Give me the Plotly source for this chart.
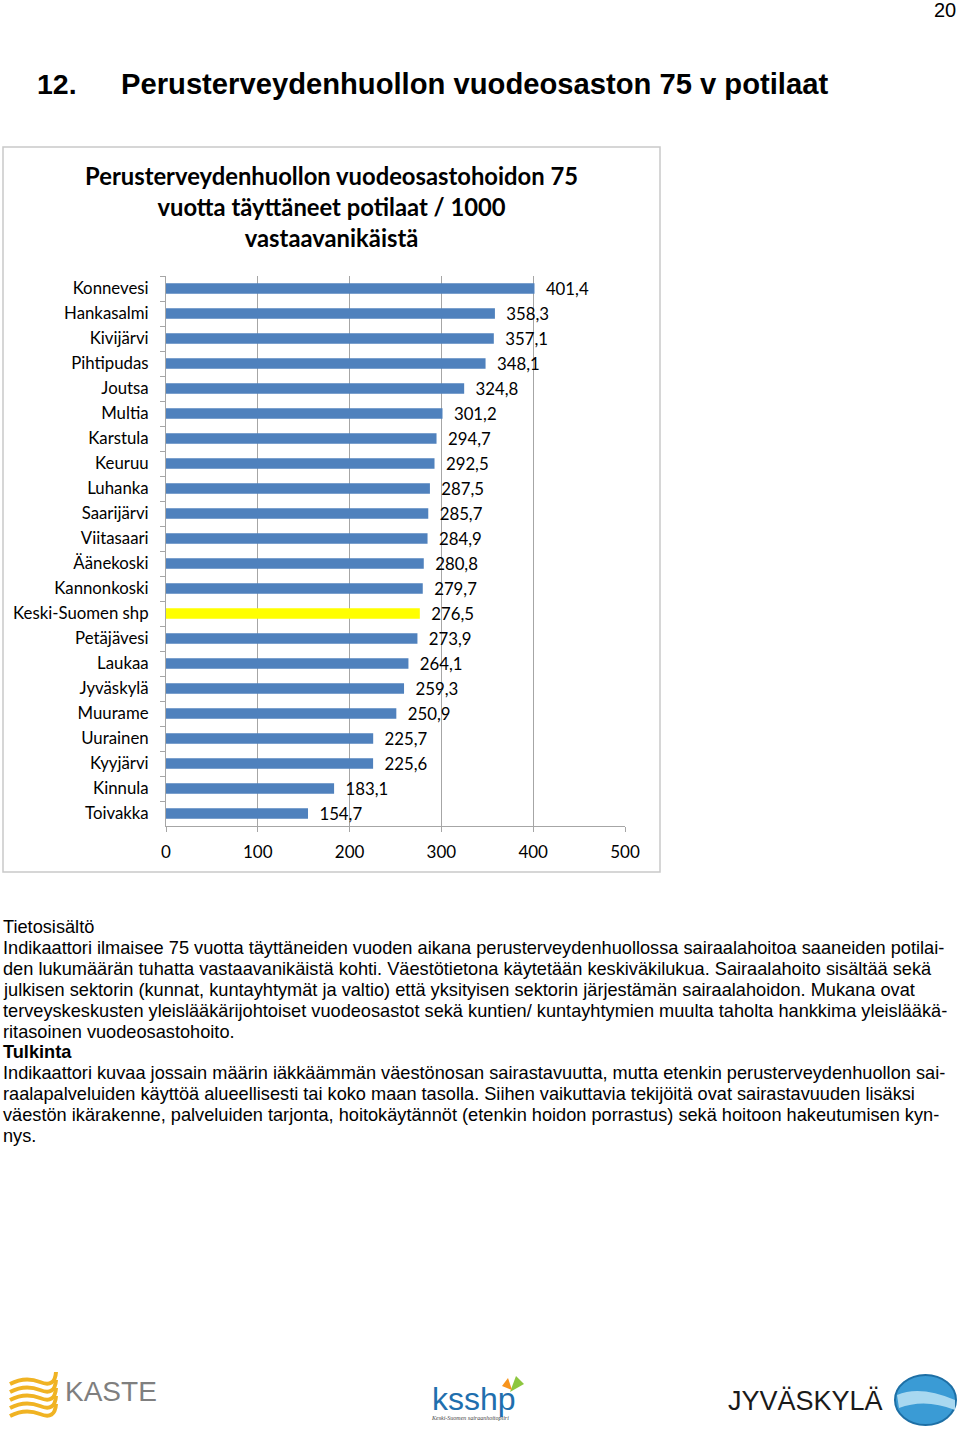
import plotly.graph_objects as go

W, H = 960, 1429

categories = ["Konnevesi", "Hankasalmi", "Kivijärvi", "Pihtipudas", "Joutsa", "Multia",
              "Karstula", "Keuruu", "Luhanka", "Saarijärvi", "Viitasaari", "Äänekoski",
              "Kannonkoski", "Keski-Suomen shp", "Petäjävesi", "Laukaa", "Jyväskylä",
              "Muurame", "Uurainen", "Kyyjärvi", "Kinnula", "Toivakka"]
values = [401.4, 358.3, 357.1, 348.1, 324.8, 301.2, 294.7, 292.5, 287.5, 285.7, 284.9,
          280.8, 279.7, 276.5, 273.9, 264.1, 259.3, 250.9, 225.7, 225.6, 183.1, 154.7]
highlight = "Keski-Suomen shp"
x_ticks = [0, 100, 200, 300, 400, 500]

page_title_num = "12."
page_title = "Perusterveydenhuollon vuodeosaston 75 v potilaat"
chart_title = "Perusterveydenhuollon vuodeosastohoidon 75<br>vuotta täyttäneet potilaat / 1000<br>vastaavanikäistä"
body_lines = [
    ("Tietosisältö", False),
    ("Indikaattori ilmaisee 75 vuotta täyttäneiden vuoden aikana perusterveydenhuollossa sairaalahoitoa saaneiden potilai-", False),
    ("den lukumäärän tuhatta vastaavanikäistä kohti. Väestötietona käytetään keskiväkilukua. Sairaalahoito sisältää sekä", False),
    ("julkisen sektorin (kunnat, kuntayhtymät ja valtio) että yksityisen sektorin järjestämän sairaalahoidon. Mukana ovat", False),
    ("terveyskeskusten yleislääkärijohtoiset vuodeosastot sekä kuntien/ kuntayhtymien muulta taholta hankkima yleislääkä-", False),
    ("ritasoinen vuodeosastohoito.", False),
    ("Tulkinta", True),
    ("Indikaattori kuvaa jossain määrin iäkkäämmän väestönosan sairastavuutta, mutta etenkin perusterveydenhuollon sai-", False),
    ("raalapalveluiden käyttöä alueellisesti tai koko maan tasolla. Siihen vaikuttavia tekijöitä ovat sairastavuuden lisäksi", False),
    ("väestön ikärakenne, palveluiden tarjonta, hoitokäytännöt (etenkin hoidon porrastus) sekä hoitoon hakeutumisen kyn-", False),
    ("nys.", False),
]

def px(x):
    return x / W

def py(y):
    return 1 - y / H

colors = ["#ffff00" if c == highlight else "#4f81bd" for c in categories]

fig = go.Figure(go.Bar(
    x=values, y=categories, orientation="h",
    marker=dict(color=colors, line=dict(width=0)),
    texttemplate="\u2002%{x:.1f}", textposition="outside", cliponaxis=False, constraintext="none",
    textfont=dict(family="Lato", size=16.8, color="#000000"),
    width=0.42,
))

fig.update_layout(
    width=W, height=H, margin=dict(l=0, r=0, t=0, b=0, pad=0, autoexpand=False),
    autosize=False, separators=", ",
    paper_bgcolor="white", plot_bgcolor="white", showlegend=False,
    xaxis=dict(domain=[px(166), px(625)], range=[0, 500], tickvals=x_ticks, automargin=False,
               showgrid=True, gridcolor="#a6a6a6", gridwidth=1,
               showline=True, linecolor="#a6a6a6", linewidth=1,
               ticks="outside", ticklen=5, tickcolor="#a6a6a6", ticklabelstandoff=6,
               tickfont=dict(family="Lato", size=17, color="#000000"),
               zeroline=False, fixedrange=True),
    yaxis=dict(domain=[py(826), py(276)], autorange="reversed", automargin=False,
               showline=True, linecolor="#a6a6a6", linewidth=1,
               ticks="outside", ticklen=5, tickcolor="#a6a6a6", tickson="boundaries",
               tickfont=dict(family="Lato", size=16.8, color="#000000"),
               ticklabelstandoff=13, fixedrange=True),
)

shapes = [dict(type="rect", xref="paper", yref="paper",
               x0=px(3), x1=px(660), y0=py(872), y1=py(147),
               line=dict(color="#c9c9c9", width=1.5), fillcolor="rgba(0,0,0,0)", layer="below")]

ann = []
ann.append(dict(text="20", x=px(958), y=py(10), xanchor="right", yanchor="middle",
                font=dict(family="Liberation Sans", size=20, color="#000")))
ann.append(dict(text=f"<b>{page_title_num}</b>", x=px(35), y=py(84), xanchor="left", yanchor="middle",
                font=dict(family="Liberation Sans", size=28.5, color="#000")))
ann.append(dict(text=f"<b>{page_title}</b>", x=px(119), y=py(84), xanchor="left", yanchor="middle",
                font=dict(family="Liberation Sans", size=29.2, color="#000")))
ann.append(dict(text=f"<b>{chart_title}</b>", x=px(331), y=py(207), xanchor="center", yanchor="middle",
                align="center", font=dict(family="Lato", size=23.8, color="#000")))

y0 = 927
for i, (line, bold) in enumerate(body_lines):
    t = f"<b>{line}</b>" if bold else line
    ann.append(dict(text=t, x=px(1), y=py(y0 + i * 20.9), xanchor="left", yanchor="middle",
                    font=dict(family="Liberation Sans", size=18.2, color="#000")))

# Logos (approximated with text and simple shapes)
for k in range(5):
    yy = 1380 + k * 8
    shapes.append(dict(type="path", xref="paper", yref="paper",
                       path=f"M {px(10)},{py(yy+4)} Q {px(25)},{py(yy-4)} {px(40)},{py(yy+2)} T {px(56)},{py(yy-8)}",
                       line=dict(color="#f0b323", width=4)))
ann.append(dict(text="KASTE", x=px(63), y=py(1391), xanchor="left", yanchor="middle",
                font=dict(family="Liberation Sans", size=28, color="#7f7f7f")))
ann.append(dict(text="ksshp", x=px(430), y=py(1399), xanchor="left", yanchor="middle",
                font=dict(family="Liberation Sans", size=32, color="#1f6fae")))
shapes.append(dict(type="path", xref="paper", yref="paper",
                   path=f"M {px(510)},{py(1392)} L {px(516)},{py(1376)} L {px(524)},{py(1384)} Z",
                   fillcolor="#8dc63f", line=dict(width=0)))
shapes.append(dict(type="path", xref="paper", yref="paper",
                   path=f"M {px(512)},{py(1390)} L {px(508)},{py(1378)} L {px(502)},{py(1386)} Z",
                   fillcolor="#f7941d", line=dict(width=0)))
ann.append(dict(text="<i>Keski-Suomen sairaanhoitopiiri</i>", x=px(470), y=py(1418), xanchor="center",
                yanchor="middle", font=dict(family="Liberation Serif", size=6, color="#444")))
ann.append(dict(text="JYVÄSKYLÄ", x=px(726), y=py(1401), xanchor="left", yanchor="middle",
                font=dict(family="Liberation Sans", size=27, color="#1a1a1a")))
shapes.append(dict(type="circle", xref="paper", yref="paper",
                   x0=px(895), x1=px(956), y0=py(1425), y1=py(1375),
                   fillcolor="#3a9bd5", line=dict(color="#1d6fa5", width=2)))
shapes.append(dict(type="path", xref="paper", yref="paper",
                   path=f"M {px(897)},{py(1395)} Q {px(920)},{py(1385)} {px(955)},{py(1400)} L {px(955)},{py(1410)} Q {px(925)},{py(1398)} {px(899)},{py(1408)} Z",
                   fillcolor="#a8d8f0", line=dict(width=0)))

for a in ann:
    a.update(xref="paper", yref="paper", showarrow=False)
fig.update_layout(annotations=ann, shapes=shapes)

fig.write_html("out.html", config={"displayModeBar": False, "responsive": False},
               post_script="document.body.style.margin='0';document.body.style.padding='0';document.body.style.overflow='hidden';")
